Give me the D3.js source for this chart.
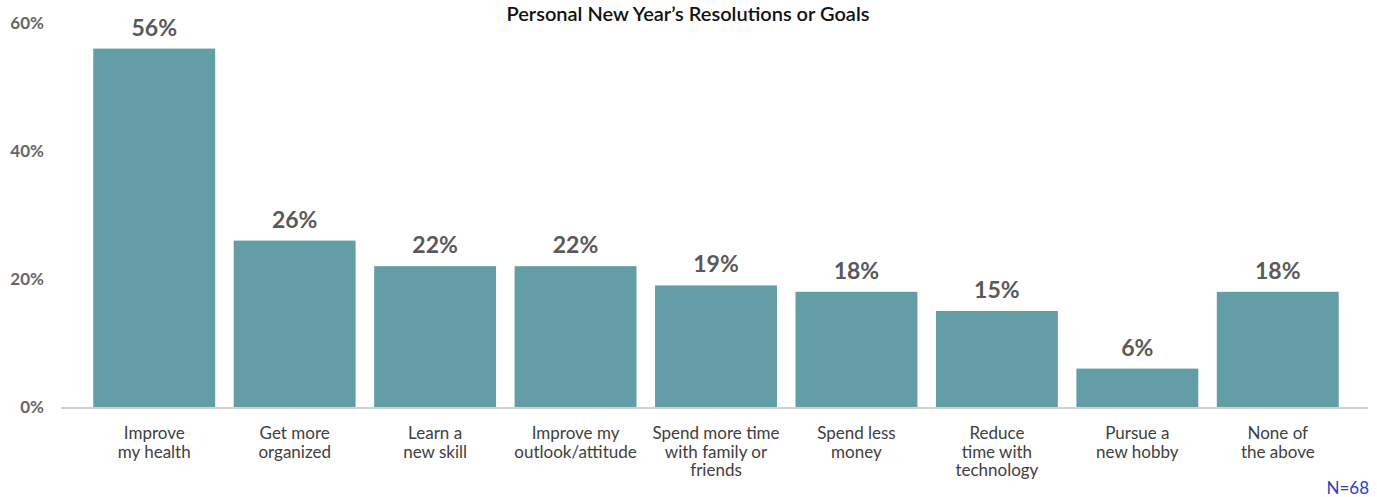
<!DOCTYPE html>
<html>
<head>
<meta charset="utf-8">
<script src="https://cdn.jsdelivr.net/npm/d3@7"></script>
<style>
  body { margin: 0; background: #fff; }
  svg { display: block; font-family: "Lato", "Noto Sans", sans-serif; }
</style>
</head>
<body>
<svg id="chart"></svg>
<script>
// data
const categories = [
  ["Improve", "my health"],
  ["Get more", "organized"],
  ["Learn a", "new skill"],
  ["Improve my", "outlook/attitude"],
  ["Spend more time", "with family or", "friends"],
  ["Spend less", "money"],
  ["Reduce", "time with", "technology"],
  ["Pursue a", "new hobby"],
  ["None of", "the above"]
];
const values = [56, 26, 22, 22, 19, 18, 15, 6, 18];
const yTicks = [0, 20, 40, 60];
const title = "Personal New Year\u2019s Resolutions or Goals";
const note = "N=68";

const width = 1377, height = 497;
const margin = {top: 23, right: 29, bottom: 90, left: 84};

const svg = d3.select('#chart')
  .attr('width', width)
  .attr('height', height);

const y = d3.scaleLinear()
  .domain([0, 60])
  .range([height - margin.bottom, margin.top]);

const x = d3.scaleBand()
  .domain(d3.range(values.length))
  .range([margin.left, 1348])
  .paddingInner(0.132)
  .paddingOuter(0.066);

// title
svg.append('text')
  .attr('x', 688)
  .attr('y', 21)
  .attr('text-anchor', 'middle')
  .attr('font-size', 20)
  .attr('font-weight', 600)
  .attr('fill', '#111')
  .text(title);

// y axis labels (no axis line)
const yAxis = d3.axisLeft(y).tickValues(yTicks).tickFormat(d => d + '%').tickSize(0).tickPadding(0);
const yg = svg.append('g')
  .attr('transform', `translate(44,0)`)
  .call(yAxis);
yg.select('.domain').remove();
yg.selectAll('text')
  .attr('font-size', 17)
  .attr('font-weight', 700)
  .attr('fill', '#666')
  .attr('font-family', '"Lato", "Noto Sans", sans-serif');

// bars
svg.append('g').selectAll('rect')
  .data(values)
  .join('rect')
    .attr('x', (d, i) => x(i))
    .attr('y', d => y(d))
    .attr('width', x.bandwidth())
    .attr('height', d => y(0) - y(d))
    .attr('fill', '#639DA5');

// baseline
svg.append('line')
  .attr('x1', 61)
  .attr('x2', 1368)
  .attr('y1', y(0) + 1)
  .attr('y2', y(0) + 1)
  .attr('stroke', '#d0d0d0')
  .attr('stroke-width', 2);

// value labels
svg.append('g').selectAll('text')
  .data(values)
  .join('text')
    .attr('x', (d, i) => x(i) + x.bandwidth() / 2)
    .attr('y', d => y(d) - 13)
    .attr('text-anchor', 'middle')
    .attr('font-size', 23)
    .attr('font-weight', 700)
    .attr('fill', '#595959')
    .text(d => d + '%');

// category labels
const xg = svg.append('g');
categories.forEach((lines, i) => {
  const t = xg.append('text')
    .attr('x', x(i) + x.bandwidth() / 2)
    .attr('y', 439)
    .attr('text-anchor', 'middle')
    .attr('font-size', 17)
    .attr('fill', '#404040');
  lines.forEach((l, j) => {
    t.append('tspan')
      .attr('x', x(i) + x.bandwidth() / 2)
      .attr('dy', j === 0 ? 0 : 18.5)
      .text(l);
  });
});

// sample size note
svg.append('text')
  .attr('x', 1369)
  .attr('y', 494)
  .attr('text-anchor', 'end')
  .attr('font-size', 17)
  .attr('fill', '#2b3fc0')
  .text(note);
</script>
</body>
</html>
